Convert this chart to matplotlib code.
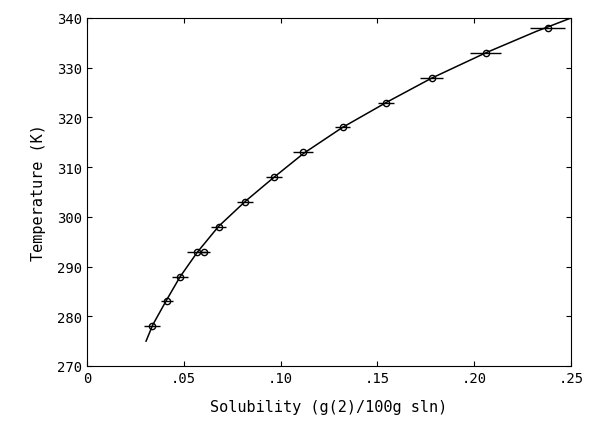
import matplotlib
matplotlib.use("Agg")
import matplotlib.pyplot as plt

plt.rcParams['font.family'] = ['DejaVu Sans Mono']

temps = [278, 283, 288, 293, 293, 298, 303, 308, 313, 318, 323, 328, 333, 338]
solub = [0.0336, 0.0413, 0.048, 0.0568, 0.0603, 0.068, 0.0816, 0.0966, 0.1116,
         0.132, 0.1544, 0.178, 0.206, 0.238]
xerr = [0.004, 0.003, 0.004, 0.005, 0.003, 0.004, 0.004, 0.004, 0.005,
        0.004, 0.004, 0.006, 0.008, 0.009]
curve_x = [0.0305, 0.034, 0.041, 0.048, 0.057, 0.068, 0.082, 0.097, 0.112,
           0.132, 0.155, 0.178, 0.206, 0.232, 0.25]
curve_T = [275, 278.3, 283.2, 287.9, 292.9, 298.1, 303.2, 308.1, 312.8,
           318.0, 323.1, 327.9, 333.0, 337.3, 340]

fig = plt.figure(figsize=(5.94, 4.39), dpi=100)
ax = fig.add_axes([87/594, 1-367/439, 484/594, 348/439])
ax.plot(curve_x, curve_T, color='black', lw=1.1, solid_joinstyle='round')
ax.errorbar(solub, temps, xerr=xerr, fmt='o', mfc='none', mec='black',
            ms=4.5, ecolor='black', elinewidth=1, capsize=0, color='black')
ax.set_xlim(0, 0.25)
ax.set_ylim(270, 340)
ax.set_xticks([0, 0.05, 0.10, 0.15, 0.20, 0.25])
ax.set_xticklabels(['0', '.05', '.10', '.15', '.20', '.25'])
ax.set_yticks(range(270, 341, 10))
ax.tick_params(direction='in', labelsize=10, top=True, right=True)
ax.set_xlabel('Solubility (g(2)/100g sln)', fontsize=11, labelpad=10)
ax.set_ylabel('Temperature (K)', fontsize=11, labelpad=8)
fig.savefig('out.png', dpi=100)
